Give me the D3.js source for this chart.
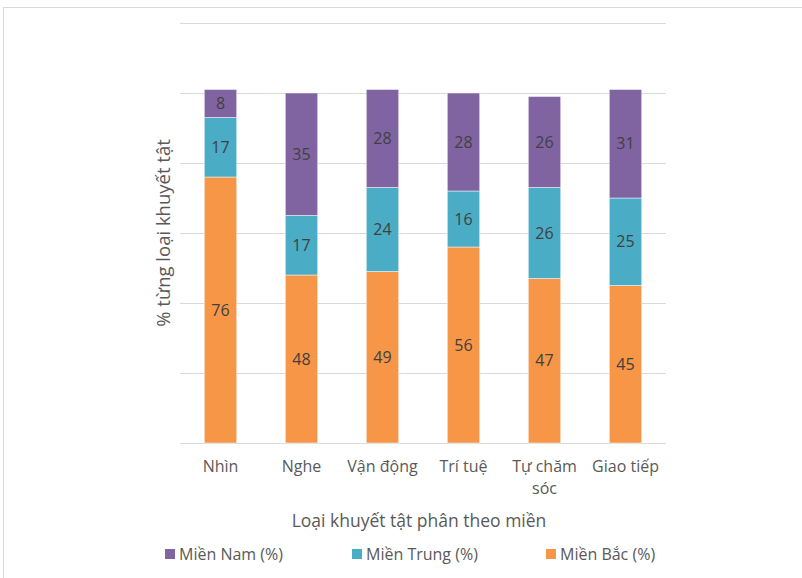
<!DOCTYPE html>
<html>
<head>
<meta charset="utf-8">
<script src="https://cdn.jsdelivr.net/npm/d3@7"></script>
<style>
  html, body { margin: 0; padding: 0; background: #fff; }
  svg { display: block; font-family: "Open Sans", "Noto Sans", sans-serif; }
</style>
</head>
<body>
<svg id="chart" width="802" height="578"></svg>
<script>
// Disability types by region (%)
const categories = ["Nhìn", "Nghe", "Vận động", "Trí tuệ", "Tự chăm sóc", "Giao tiếp"];
const mienBac   = [76, 48, 49, 56, 47, 45];
const mienTrung = [17, 17, 24, 16, 26, 25];
const mienNam   = [8, 35, 28, 28, 26, 31];
const seriesNames = ["Miền Bắc (%)", "Miền Trung (%)", "Miền Nam (%)"];
const legendOrder = ["Miền Nam (%)", "Miền Trung (%)", "Miền Bắc (%)"];
const yTicks = [0, 20, 40, 60, 80, 100, 120];

const colors = {
  "Miền Bắc (%)": "#F79646",
  "Miền Trung (%)": "#4BACC6",
  "Miền Nam (%)": "#8064A2"
};

const rows = categories.map((c, i) => ({
  cat: c,
  "Miền Bắc (%)": mienBac[i],
  "Miền Trung (%)": mienTrung[i],
  "Miền Nam (%)": mienNam[i]
}));

const svg = d3.select("#chart");

// outer chart frame
svg.append("rect")
  .attr("x", 3.5).attr("y", 7.5)
  .attr("width", 820).attr("height", 600)
  .attr("fill", "#fff").attr("stroke", "#d9d9d9").attr("stroke-width", 1);

const plot = { left: 180, right: 666, top: 23, bottom: 443 };

const x = d3.scaleBand()
  .domain(categories)
  .range([plot.left, plot.right])
  .paddingInner(0.6).paddingOuter(0.3);

const y = d3.scaleLinear()
  .domain([0, 120])
  .range([plot.bottom, plot.top]);

// gridlines
svg.append("g")
  .selectAll("line")
  .data(yTicks)
  .join("line")
  .attr("x1", plot.left).attr("x2", plot.right)
  .attr("y1", d => Math.round(y(d)) + 0.5)
  .attr("y2", d => Math.round(y(d)) + 0.5)
  .attr("stroke", "#d9d9d9").attr("stroke-width", 1.2);

// stacked bars
const stack = d3.stack().keys(seriesNames)(rows);

const layers = svg.append("g")
  .selectAll("g")
  .data(stack)
  .join("g")
  .attr("fill", d => colors[d.key]);

layers.selectAll("rect")
  .data(d => d)
  .join("rect")
  .attr("x", d => x(d.data.cat))
  .attr("width", x.bandwidth())
  .attr("y", d => y(d[1]))
  .attr("height", d => y(d[0]) - y(d[1]))
  .attr("stroke", "rgba(255,255,255,0.6)")
  .attr("stroke-width", 0.8);

// value labels
layers.selectAll("text")
  .data(d => d.map(v => ({ v, key: d.key })))
  .join("text")
  .attr("x", d => x(d.v.data.cat) + x.bandwidth() / 2)
  .attr("y", d => (y(d.v[0]) + y(d.v[1])) / 2)
  .attr("dy", "0.35em")
  .attr("text-anchor", "middle")
  .attr("fill", "#404040")
  .attr("font-size", 16)
  .text(d => d.v.data[d.key]);

// category axis labels
const xAxis = d3.axisBottom(x).tickSize(0).tickPadding(0);
const gx = svg.append("g")
  .attr("transform", `translate(0,${plot.bottom})`)
  .call(xAxis);
gx.select(".domain").remove();
gx.selectAll(".tick text").remove();
gx.selectAll(".tick").each(function(d) {
  const t = d3.select(this).append("text")
    .attr("text-anchor", "middle")
    .attr("fill", "#595959")
    .attr("font-size", 16)
    .attr("font-family", "\"Open Sans\", sans-serif");
  const lines = d === "Tự chăm sóc" ? ["Tự chăm", "sóc"] : [d];
  lines.forEach((ln, i) => {
    t.append("tspan").attr("x", 0).attr("y", 29 + i * 22).text(ln);
  });
});

// axis titles
svg.append("text")
  .attr("x", (plot.left + plot.right) / 2 - 4)
  .attr("y", 527)
  .attr("text-anchor", "middle")
  .attr("fill", "#595959")
  .attr("font-size", 17.5)
  .text("Loại khuyết tật phân theo miền");

svg.append("text")
  .attr("transform", `translate(170,${(plot.top + plot.bottom) / 2}) rotate(-90)`)
  .attr("text-anchor", "middle")
  .attr("fill", "#595959")
  .attr("font-size", 18.5)
  .text("% từng loại khuyết tật");

// legend
const legendX = [165, 352, 546];
const lg = svg.append("g")
  .selectAll("g")
  .data(legendOrder)
  .join("g")
  .attr("transform", (d, i) => `translate(${legendX[i]},554)`);
lg.append("rect")
  .attr("x", 0).attr("y", -5)
  .attr("width", 10).attr("height", 10)
  .attr("fill", d => colors[d]);
lg.append("text")
  .attr("x", 14).attr("y", 0).attr("dy", "0.35em")
  .attr("fill", "#595959")
  .attr("font-size", 16)
  .text(d => d);
</script>
</body>
</html>
